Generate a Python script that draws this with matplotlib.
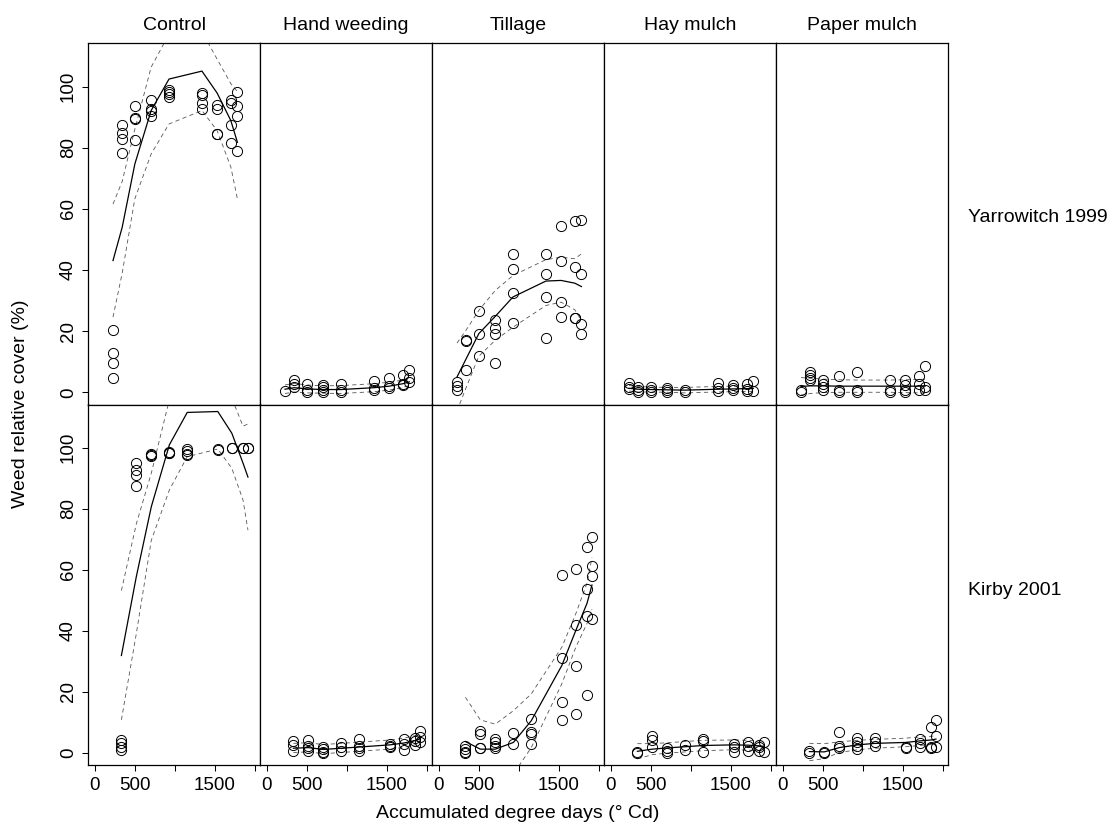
import matplotlib
matplotlib.use("Agg")
import matplotlib.pyplot as plt

plt.rcParams['font.family'] = ['Liberation Sans', 'DejaVu Sans']

# ---------------- data ----------------
treatments = ["Control", "Hand weeding", "Tillage", "Hay mulch", "Paper mulch"]
sites = ["Yarrowitch 1999", "Kirby 2001"]

x_1999 = [225, 340, 498, 702, 925, 1337, 1527, 1698, 1780]
x_2001 = [330, 516, 704, 930, 1153, 1535, 1710, 1850, 1912]

# observed cover per sampling date (Yarrowitch 1999)
ctrl_99 = [[20.5, 12.8, 9.6, 4.8], [87.4, 84.8, 82.8, 78.4], [93.6, 89.8, 89.4, 82.5],
           [95.8, 92.7, 91.9, 90.5], [98.9, 98.1, 97.5, 96.7], [97.8, 97.3, 94.5, 92.7],
           [94.0, 92.7, 84.6, 84.4], [95.5, 94.5, 87.6, 81.5], [98.2, 93.6, 90.4, 78.9]]
hand_99 = [[0.3], [3.9, 2.6, 1.7], [2.8, 0.7, 0.2], [2.4, 1.7, 0.7, 0.0], [2.8, 0.9, 0.2],
           [3.6, 1.3, 0.7], [4.8, 2.0, 1.5], [5.8, 2.8, 2.4], [7.4, 4.6, 3.5]]
till_99 = [[3.4, 2.0, 0.7], [17.2, 16.8, 7.4], [26.5, 19.2, 11.8], [23.5, 21.0, 19.2, 9.7],
           [45.4, 40.2, 32.5, 22.8], [45.4, 38.6, 31.2, 17.9], [54.4, 43.1, 29.7, 24.7],
           [55.9, 41.0, 24.4, 24.2], [56.4, 38.6, 22.4, 19.2]]
hay_99 = [[3.0, 1.7, 1.1], [1.7, 0.7, 0.2], [1.7, 0.9, 0.2], [1.5, 0.9, 0.2], [0.9, 0.2],
          [3.0, 1.3, 0.4], [2.4, 1.5, 0.7], [2.6, 1.1, 0.4], [3.6, 0.4]]
paper_99 = [[0.7, 0.2], [6.6, 5.6, 4.8, 3.9], [4.1, 2.8, 1.7, 0.7], [5.2, 0.7, 0.2],
            [6.5, 0.7, 0.2], [3.9, 0.7, 0.2], [4.1, 2.4, 0.7, 0.2], [5.2, 2.8, 0.7],
            [8.5, 1.7, 0.7]]

# fitted curve and confidence band (Yarrowitch 1999)
ctrl_99_fit = [43.1, 54.0, 74.7, 92.2, 102.5, 105.1, 97.9, 88.9, 81.8]
ctrl_99_lo = [24.6, 39.0, 63.3, 78.0, 87.8, 92.2, 85.6, 73.7, 63.3]
ctrl_99_hi = [61.6, 69.0, 86.1, 106.4, 117.2, 118.0, 109.0, 101.0, 98.4]
hand_99_fit = [1.0, 1.5, 1.1, 0.9, 0.9, 1.5, 2.0, 2.8, 3.4]
hand_99_lo = [-0.4, 0.1, -0.2, -0.3, -0.4, 0.2, 0.7, 1.6, 2.2]
hand_99_hi = [2.4, 2.9, 2.4, 2.1, 2.2, 2.8, 3.3, 4.0, 4.6]
till_99_fit = [5.0, 11.0, 19.2, 24.8, 31.2, 36.4, 36.6, 35.7, 34.6]
till_99_lo = [-6.1, 1.6, 11.8, 17.0, 21.3, 28.4, 29.5, 27.0, 23.5]
till_99_hi = [16.1, 20.4, 26.8, 33.3, 38.2, 43.4, 44.2, 43.7, 45.3]
hay_99_fit = [1.3, 1.0, 0.9, 0.8, 0.7, 1.0, 1.1, 1.2, 1.3]
hay_99_lo = [0.4, 0.1, 0.1, 0.0, -0.2, 0.1, 0.2, 0.3, 0.3]
hay_99_hi = [2.2, 1.9, 1.7, 1.6, 1.6, 1.9, 2.0, 2.1, 2.3]
paper_99_fit = [1.9, 2.1, 2.1, 2.0, 2.0, 2.0, 2.0, 2.0, 2.1]
paper_99_lo = [-0.9, -0.4, -0.1, 0.0, 0.0, 0.0, -0.1, -0.2, -0.2]
paper_99_hi = [4.8, 4.6, 4.3, 4.1, 4.0, 4.0, 4.1, 4.2, 4.3]

# observed cover per sampling date (Kirby 2001)
ctrl_01 = [[4.2, 3.1, 2.0, 0.9], [95.0, 92.8, 91.0, 87.6], [97.9, 97.7, 97.4],
           [98.6, 98.4, 98.2], [99.6, 98.8, 98.0, 97.7], [99.6, 99.3], [99.9, 99.8],
           [100.0, 99.9], [100.0, 99.9]]
hand_01 = [[3.9, 2.6, 0.7], [4.2, 2.3, 1.5, 0.7], [2.0, 1.1, 0.3, 0.0], [3.1, 2.0, 0.7],
           [4.6, 2.3, 1.5, 0.7], [2.9, 2.3, 1.8], [4.4, 2.9, 0.9], [5.0, 3.9, 2.6],
           [7.2, 5.3, 3.4]]
till_01 = [[2.3, 1.2, 0.4, 0.0], [7.2, 6.1, 1.7, 1.5], [4.5, 3.7, 2.3, 1.7], [6.4, 2.9],
           [11.1, 6.7, 6.1, 2.9], [58.2, 31.0, 16.5, 10.9], [60.2, 42.0, 28.6, 12.7],
           [67.4, 53.6, 44.7, 19.1], [70.6, 61.2, 58.0, 43.8]]
hay_01 = [[0.3, 0.0], [5.6, 4.2, 2.0], [1.5, 0.7, 0.0], [2.6, 0.9], [4.6, 3.9, 0.4],
          [2.9, 2.0, 0.4], [3.7, 2.3, 0.7], [2.6, 1.8, 0.7], [3.7, 0.3]]
paper_01 = [[0.7, 0.0], [0.3, 0.0], [6.7, 2.3, 1.5], [5.0, 3.4, 2.3, 1.2], [4.8, 3.4, 2.2],
            [2.0, 1.5], [4.5, 3.1, 1.8], [8.3, 2.0, 1.5], [10.8, 5.6, 2.0]]

# fitted curve and confidence band (Kirby 2001)
ctrl_01_fit = [31.9, 57.7, 80.7, 101.0, 111.6, 111.9, 104.8, 95.0, 90.4]
ctrl_01_lo = [10.8, 39.0, 69.7, 86.2, 97.1, 99.6, 93.3, 82.9, 73.0]
ctrl_01_hi = [53.2, 75.0, 91.7, 115.8, 126.0, 124.2, 116.3, 107.1, 107.8]
hand_01_fit = [1.5, 1.7, 1.1, 1.5, 1.9, 2.6, 3.2, 4.0, 4.6]
hand_01_lo = [0.1, 0.3, -0.3, 0.1, 0.5, 1.2, 1.8, 2.6, 3.2]
hand_01_hi = [3.1, 3.3, 2.7, 3.1, 3.5, 4.2, 4.8, 5.6, 6.2]
till_01_fit = [3.7, 1.2, 1.2, 3.4, 10.5, 28.6, 40.1, 49.0, 55.0]
till_01_lo = [-10.8, -8.4, -7.0, -7.0, 1.7, 22.6, 34.6, 42.4, 47.0]
till_01_hi = [18.2, 10.8, 9.4, 13.8, 19.3, 34.6, 45.6, 55.6, 64.0]
hay_01_fit = [0.5, 1.2, 1.6, 2.0, 2.4, 2.6, 2.5, 2.3, 2.1]
hay_01_lo = [-2.0, -0.6, -0.1, 0.3, 0.7, 1.0, 0.9, 0.7, 0.4]
hay_01_hi = [3.0, 3.0, 3.3, 3.7, 4.1, 4.2, 4.1, 3.9, 3.8]
paper_01_fit = [0.4, 0.3, 1.7, 2.6, 3.1, 3.4, 3.9, 4.2, 4.5]
paper_01_lo = [-2.6, -1.9, 0.1, 1.0, 1.5, 2.0, 2.4, 2.7, 2.9]
paper_01_hi = [3.1, 3.0, 3.6, 4.1, 4.4, 4.8, 5.2, 5.4, 5.6]

x_ticks = [0, 500, 1000, 1500, 2000]
x_tick_labels = ["0", "500", "", "1500", ""]
y_ticks = [0, 20, 40, 60, 80, 100]

rows = [
    (x_1999,
     [ctrl_99, hand_99, till_99, hay_99, paper_99],
     [ctrl_99_fit, hand_99_fit, till_99_fit, hay_99_fit, paper_99_fit],
     [ctrl_99_lo, hand_99_lo, till_99_lo, hay_99_lo, paper_99_lo],
     [ctrl_99_hi, hand_99_hi, till_99_hi, hay_99_hi, paper_99_hi]),
    (x_2001,
     [ctrl_01, hand_01, till_01, hay_01, paper_01],
     [ctrl_01_fit, hand_01_fit, till_01_fit, hay_01_fit, paper_01_fit],
     [ctrl_01_lo, hand_01_lo, till_01_lo, hay_01_lo, paper_01_lo],
     [ctrl_01_hi, hand_01_hi, till_01_hi, hay_01_hi, paper_01_hi]),
]

# ---------------- layout ----------------
W, H = 1117, 836
fig = plt.figure(figsize=(W / 100, H / 100), dpi=100)

left0, pw = 88, 172
row_edges = [(43.3, 404.5), (404.5, 765.0)]
FS = 14

for r, (xd, obs_list, fit_list, lo_list, hi_list) in enumerate(rows):
    top, bot = row_edges[r]
    for c in range(5):
        l = left0 + c * pw
        ax = fig.add_axes([l / W, 1 - bot / H, pw / W, (bot - top) / H])
        obs = obs_list[c]
        xs = [xd[i] for i, col in enumerate(obs) for _ in col]
        ys = [v for col in obs for v in col]
        ax.plot(xd, lo_list[c], color="#555555", lw=0.6, ls=(0, (5, 4)))
        ax.plot(xd, hi_list[c], color="#555555", lw=0.6, ls=(0, (5, 4)))
        ax.plot(xd, fit_list[c], color="black", lw=0.9)
        ax.plot(xs, ys, ls="none", marker="o", ms=7.3, mfc="none", mec="black", mew=0.7)
        ax.set_xlim(-87.5, 2062.5)
        ax.set_ylim(-4, 114.2)
        for s in ax.spines.values():
            s.set_linewidth(0.9)
        ax.tick_params(direction="out", length=4, width=0.75, labelsize=13.5, colors="black")
        if c == 0:
            ax.set_yticks(y_ticks)
            ax.set_yticklabels([str(v) for v in y_ticks], rotation=90, va="center")
            ax.tick_params(axis="y", pad=4)
        else:
            ax.set_yticks([])
        if r == 1:
            ax.set_xticks(x_ticks)
            ax.set_xticklabels(x_tick_labels)
            ax.tick_params(axis="x", pad=5)
        else:
            ax.set_xticks([])
        if r == 0:
            fig.text((l + pw / 2) / W, 1 - 30.5 / H, treatments[c], ha="center",
                     va="baseline", fontsize=FS)

fig.text(968 / W, 1 - 222 / H, sites[0], ha="left", va="baseline", fontsize=FS)
fig.text(968 / W, 1 - 595 / H, sites[1], ha="left", va="baseline", fontsize=FS)
fig.text(21 / W, 1 - 404 / H, "Weed relative cover (%)", rotation=90, ha="center",
         va="center", fontsize=FS)
fig.text(518 / W, 1 - 813 / H, "Accumulated degree days (\u00b0 Cd)", ha="center",
         va="center", fontsize=FS)

fig.savefig("out.png", dpi=100)
